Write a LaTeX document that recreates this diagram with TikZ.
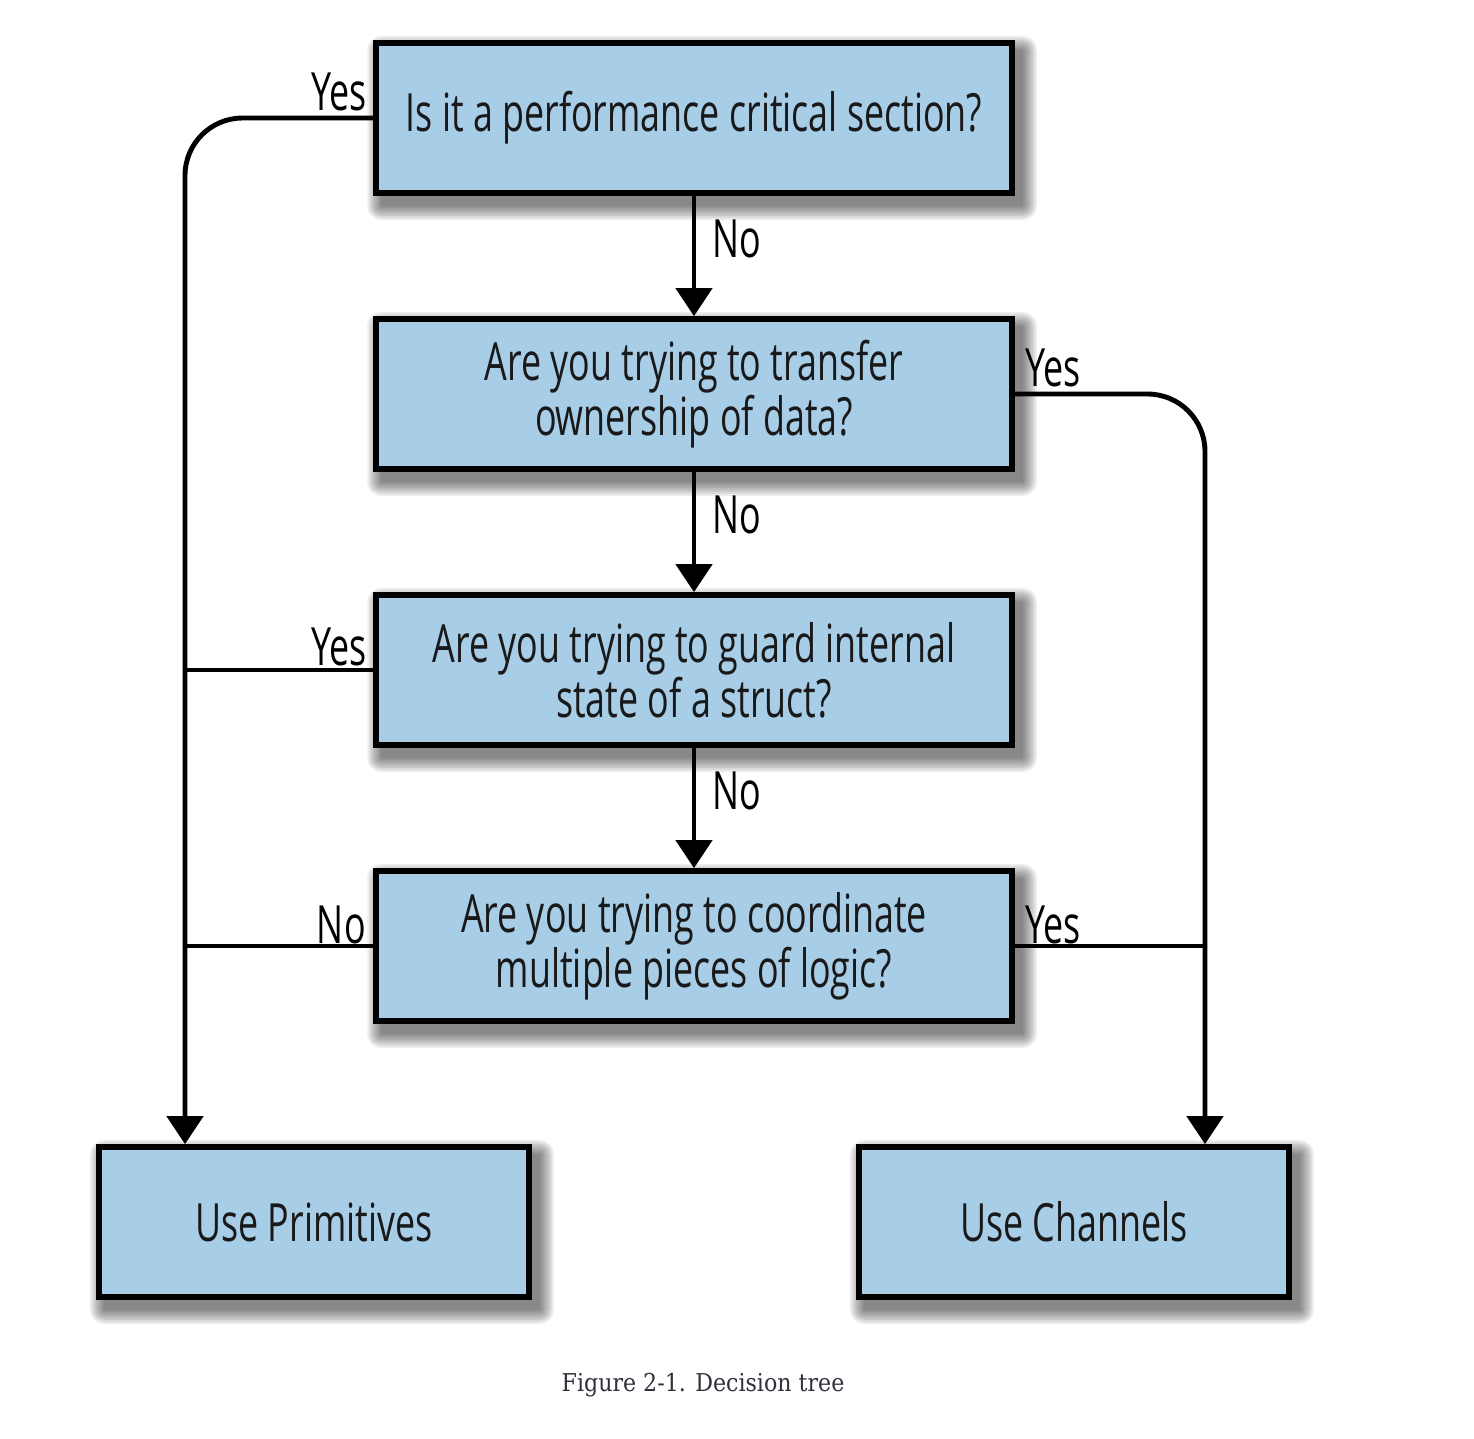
\documentclass[tikz,border=0pt]{standalone}
\usepackage{fontspec}
\setmainfont{Liberation Serif}
\newfontfamily\boxfont[FakeStretch=0.68]{Open Sans}
\newfontfamily\capfont[FakeStretch=0.9]{DejaVu Serif}
\usetikzlibrary{arrows.meta,backgrounds}
\definecolor{boxblue}{RGB}{168,205,231}
\definecolor{captext}{RGB}{48,48,60}
\begin{document}
\begin{tikzpicture}[x=0.02cm,y=-0.02cm,
  qbox/.style={draw=black, line width=3.2pt, fill=boxblue,
    minimum width=12.72cm, minimum height=3.0cm, inner sep=0pt, align=center,
    font=\boxfont\fontsize{30}{29.5}\selectfont, text=black!90},
  endbox/.style={qbox, minimum width=8.6cm},
  lbl/.style={font=\boxfont\fontsize{30}{29.5}\selectfont, inner sep=0pt},
  flow/.style={line width=2.8pt, -{Triangle[width=20.5pt,length=16pt]}},
  link/.style={line width=2.8pt},
  shadowlayer/.style={fill=black, opacity=0.075}
]
\useasboundingbox (0,0) rectangle (1474,1438);

\node[qbox] (q1) at (694,118) {Is it a performance critical section?};
\node[qbox] (q2) at (694,394) {Are you trying to transfer\\ownership of data?};
\node[qbox] (q3) at (694,670) {Are you trying to guard internal\\state of a struct?};
\node[qbox] (q4) at (694,946) {Are you trying to coordinate\\multiple pieces of logic?};
\node[endbox] (prim) at (314,1222) {Use Primitives};
\node[endbox] (chan) at (1074,1222) {Use Channels};

\begin{scope}[on background layer]
\fill[white] (0,0) rectangle (1474,1438);
\foreach \n in {q1,q2,q3,q4,prim,chan}{
  \foreach \r in {0,2,...,14}{
    \fill[shadowlayer, rounded corners=\r*0.02cm]
      ([shift={(8-\r,10-\r)}]\n.north west) rectangle ([shift={(8+\r,10+\r)}]\n.south east);
  }
}
\end{scope}

\coordinate (lbus) at (185,0);
\coordinate (rbus) at (1205,0);

\draw[flow] (q1) -- (q2);
\draw[flow] (q2) -- (q3);
\draw[flow] (q3) -- (q4);

\draw[flow, rounded corners=1.15cm] (q1.west) -| (lbus |- prim.north);
\draw[link] (q3.west) -- (q3.west -| lbus);
\draw[link] (q4.west) -- (q4.west -| lbus);

\draw[flow, rounded corners=1.15cm] (q2.east) -| (rbus |- chan.north);
\draw[link] (q4.east) -- (q4.east -| rbus);

\node[lbl, anchor=base east] (y1) at (367,110) {Yes};
\node[lbl, anchor=base west] (n1) at (712,257) {No};
\node[lbl, anchor=base west] (y2) at (1025,386) {Yes};
\node[lbl, anchor=base west] (n2) at (712,533) {No};
\node[lbl, anchor=base east] (y3) at (367,665) {Yes};
\node[lbl, anchor=base west] (n3) at (712,809) {No};
\node[lbl, anchor=base east] (n4) at (366,943) {No};
\node[lbl, anchor=base west] (y4) at (1025,943) {Yes};

\node[font=\capfont\fontsize{14}{16}\selectfont, text=captext] (cap) at (703,1385) {Figure 2-1. Decision tree};
\end{tikzpicture}
\end{document}
